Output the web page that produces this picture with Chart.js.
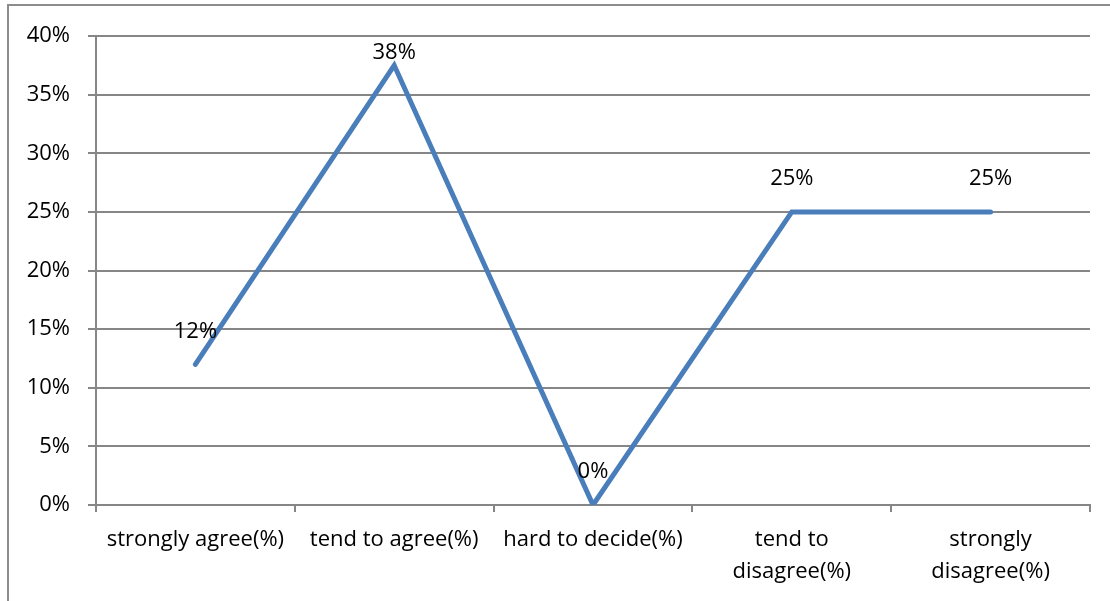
<!DOCTYPE html>
<html>
<head>
<meta charset="utf-8">
<script src="https://cdn.jsdelivr.net/npm/chart.js@4/dist/chart.umd.min.js"></script>
<style>
html,body{margin:0;padding:0;background:#fff;}
#wrap{width:1110px;height:601px;position:relative;}
</style>
</head>
<body>
<div id="wrap"><canvas id="c" width="1110" height="601"></canvas></div>
<script>
const categories = [
  "strongly agree(%)",
  "tend to agree(%)",
  "hard to decide(%)",
  ["tend to", "disagree(%)"],
  ["strongly", "disagree(%)"]
];
const values = [12, 37.5, 0, 25, 25];
const valueLabels = ["12%", "38%", "0%", "25%", "25%"];
const yTicks = [0, 5, 10, 15, 20, 25, 30, 35, 40];

const FONT = "'Open Sans', 'Liberation Sans', sans-serif";
const FSIZE = 22;
const GRID = '#868686';

const framePlugin = {
  id: 'frame',
  beforeDraw(chart) {
    const ctx = chart.ctx;
    ctx.save();
    ctx.fillStyle = '#fff';
    ctx.fillRect(0, 0, chart.width, chart.height);
    ctx.strokeStyle = '#8c8c8c';
    ctx.lineWidth = 2;
    ctx.strokeRect(8, 5, 1200, 700);
    ctx.restore();
  }
};

const labelPlugin = {
  id: 'vlabels',
  afterDatasetsDraw(chart) {
    const ctx = chart.ctx;
    const meta = chart.getDatasetMeta(0);
    ctx.save();
    ctx.font = FSIZE + "px " + FONT;
    ctx.fillStyle = '#000';
    ctx.textAlign = 'center';
    ctx.textBaseline = 'middle';
    meta.data.forEach((pt, i) => {
      let y = pt.y - 33;
      y = Math.max(y, chart.chartArea.top + 17);
      ctx.fillText(valueLabels[i], pt.x, y);
    });
    ctx.restore();
  }
};

new Chart(document.getElementById('c'), {
  type: 'line',
  data: {
    labels: categories,
    datasets: [{
      data: values,
      borderColor: '#4a7ebb',
      borderWidth: 5,
      borderCapStyle: 'round',
      borderJoinStyle: 'miter',
      pointRadius: 0,
      tension: 0,
      fill: false
    }]
  },
  options: {
    responsive: false,
    animation: false,
    events: [],
    layout: { padding: { left: 0, right: 20, top: 36, bottom: 0 } },
    plugins: { legend: { display: false }, tooltip: { enabled: false } },
    scales: {
      x: {
        offset: true,
        grid: {
          offset: true,
          drawOnChartArea: false,
          drawTicks: true,
          tickLength: 7,
          color: GRID,
          lineWidth: 2
        },
        border: { color: GRID, width: 2 },
        ticks: {
          color: '#000',
          font: { family: FONT, size: FSIZE, lineHeight: 1.45 },
          maxRotation: 0,
          autoSkip: false,
          padding: 12
        },
        afterFit(scale) { scale.height = 96; }
      },
      y: {
        min: 0,
        max: 40,
        afterBuildTicks(scale) { scale.ticks = yTicks.map(v => ({ value: v })); },
        grid: {
          color: GRID,
          lineWidth: 2,
          drawTicks: true,
          tickLength: 8
        },
        border: { color: GRID, width: 2 },
        ticks: {
          color: '#000',
          font: { family: FONT, size: FSIZE },
          padding: 18,
          callback: v => v + '%'
        },
        afterFit(scale) { scale.width = 96; }
      }
    }
  },
  plugins: [framePlugin, labelPlugin]
});
</script>
</body>
</html>
